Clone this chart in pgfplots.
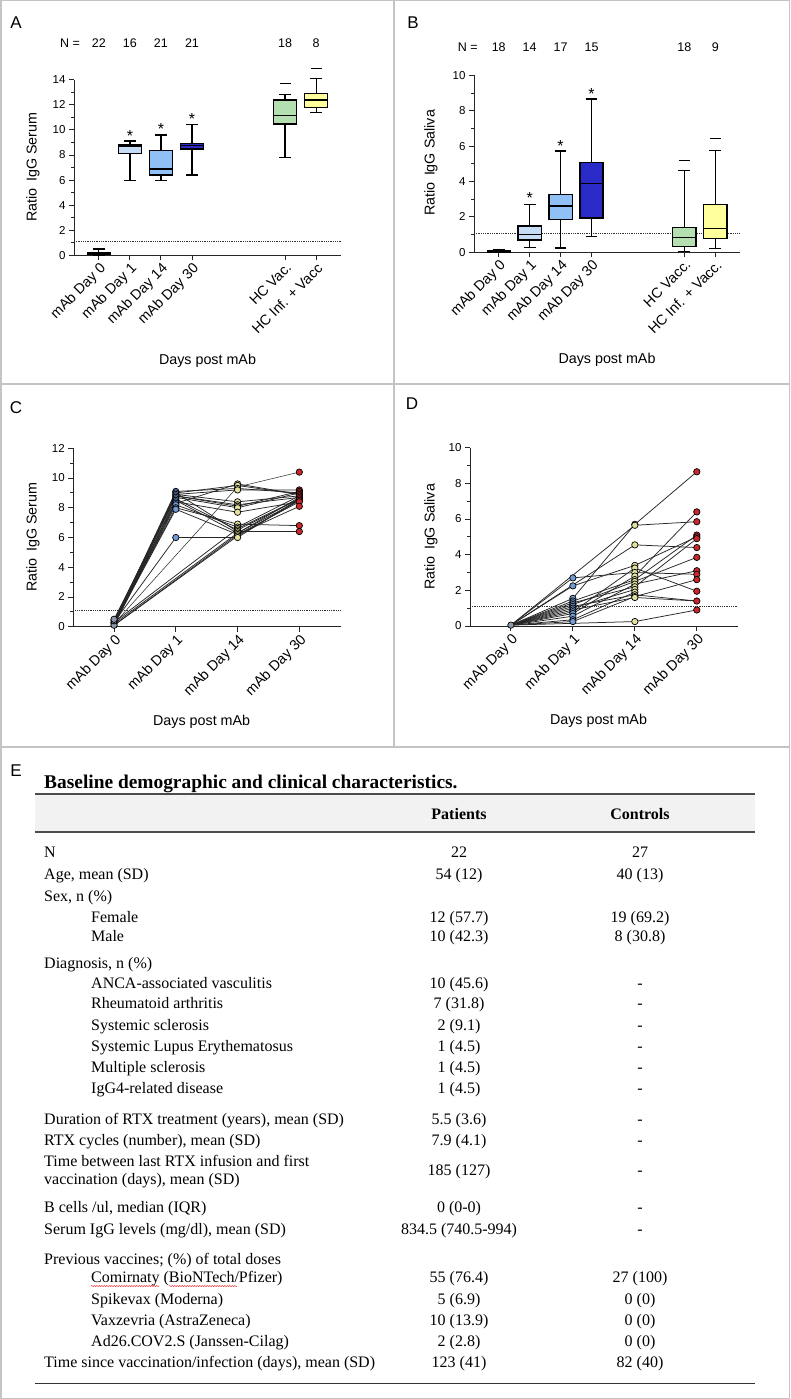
\documentclass[border=0pt]{standalone}
\usepackage{fontspec}
\setmainfont{Liberation Serif}
\newfontfamily\arial{Liberation Sans}
\usepackage{pgfplots}
\pgfplotsset{compat=1.18}
\usepgfplotslibrary{statistics}
\usetikzlibrary{decorations.pathmorphing}

\definecolor{bxone}{HTML}{C6DBF6}
\definecolor{bxtwo}{HTML}{90C0F6}
\definecolor{bxthree}{HTML}{2A2AC8}
\definecolor{bxhc}{HTML}{B4DFB0}
\definecolor{bxinf}{HTML}{FFFF9C}
\definecolor{mkzero}{HTML}{8A97AA}
\definecolor{mkone}{HTML}{6E9BD4}
\definecolor{mktwo}{HTML}{E3E19E}
\definecolor{mkthree}{HTML}{C8282D}
\definecolor{frame}{HTML}{C4C4C4}
\definecolor{hdr}{HTML}{F2F2F2}

\newcommand\fA{\arial\fontsize{14.3}{16}\selectfont}
\newcommand\fT{\arial\fontsize{11.5}{13}\selectfont}
\newcommand\fN{\arial\fontsize{12.5}{14}\selectfont}
\newcommand\fS{\arial\fontsize{16}{18}\selectfont}
\newcommand\fL{\arial\fontsize{17}{19}\selectfont}

\pgfplotsset{
  panel/.style={
    scale only axis, anchor=south west, clip=false,
    axis x line*=bottom, axis y line*=left,
    axis line style={line width=0.9pt, black!85, -},
    tick style={line width=0.9pt, black!85},
    tick align=outside, major tick length=5pt, minor tick length=3pt,
    minor y tick num=1,
    /pgf/number format/assume math mode=true,
    tick label style={font=\fT},
    xticklabel style={font=\fA, rotate=45, anchor=north east, inner sep=1pt},
    boxplot/draw direction=y,
    boxplot/box extend=0.75, boxplot/whisker extend=0.38,
  },
  bx/.style={boxplot prepared={#1}, draw=black, line width=1.3pt, solid},
  ln/.style={black!85, line width=0.75pt, mark=none},
  mk/.style={only marks, mark=*, mark size=3.2pt, mark options={fill=#1, draw=black, line width=0.7pt}},
  star/.style={only marks, mark=text, text mark={*}, text mark as node=true, text mark style={font=\fS, inner sep=0pt}},
}

% table rows: baseline y (px), label, patients, controls
\newcommand\trow[4]{%
  \node[anchor=base west, inner sep=0] at (44pt,-#1pt) {#2};
  \node[anchor=base, inner sep=0] at (459pt,-#1pt) {#3};
  \node[anchor=base, inner sep=0] at (640pt,-#1pt) {#4};}
\newcommand\srow[4]{%
  \node[anchor=base west, inner sep=0] at (91pt,-#1pt) {#2};
  \node[anchor=base, inner sep=0] at (459pt,-#1pt) {#3};
  \node[anchor=base, inner sep=0] at (640pt,-#1pt) {#4};}

\begin{document}
\begin{tikzpicture}
\useasboundingbox (0,0) rectangle (790pt,-1399pt);
\fill[white] (0,0) rectangle (790pt,-1399pt);

% frame
\draw[frame, line width=1.5pt] (0.75pt,-0.75pt) rectangle (789.25pt,-1398.25pt);
\draw[frame, line width=1.5pt] (394pt,0pt) -- (394pt,-747pt);
\draw[frame, line width=1.5pt] (0pt,-384pt) -- (790pt,-384pt);
\draw[frame, line width=1.5pt] (0pt,-747pt) -- (790pt,-747pt);

% panel letters
\node[font=\fL, anchor=base] at (16pt,-29pt) {A};
\node[font=\fL, anchor=base] at (413pt,-29pt) {B};
\node[font=\fL, anchor=base] at (16pt,-413pt) {C};
\node[font=\fL, anchor=base] at (412pt,-409pt) {D};
\node[font=\fL, anchor=base] at (16pt,-776pt) {E};

% ---------------- A ----------------
\begin{axis}[panel, at={(74pt,-255.3pt)}, width=267pt, height=175.6pt,
  xmin=-0.8, xmax=7.8, ymin=0, ymax=14, ytick={0,2,...,14},
  xtick={0,1,2,3,6,7},
  xticklabels={mAb Day 0, mAb Day 1, mAb Day 14, mAb Day 30, HC Vac., HC Inf. + Vacc},
  xlabel={Days post mAb}, ylabel={Ratio\hspace{0.45em}IgG Serum},
  xlabel style={at={(axis description cs:0.5,-0.602)}, anchor=center, font=\fA},
  ylabel style={at={(axis description cs:-0.154,0.503)}, anchor=center, font=\fA}]
\addplot[densely dotted, black!80, line width=0.8pt] coordinates {(-0.8,1.12) (7.8,1.12)};
\addplot[bx={draw position=0, lower whisker=0, lower quartile=0.04, median=0.1, upper quartile=0.2, upper whisker=0.5}, fill=black] coordinates {};
\addplot[bx={draw position=1, lower whisker=5.98, lower quartile=8.14, median=8.72, upper quartile=8.86, upper whisker=9.12}, fill=bxone] coordinates {};
\addplot[bx={draw position=2, lower whisker=5.98, lower quartile=6.41, median=6.89, upper quartile=8.35, upper whisker=9.6}, fill=bxtwo] coordinates {};
\addplot[bx={draw position=3, lower whisker=6.41, lower quartile=8.48, median=8.75, upper quartile=8.91, upper whisker=10.43}, fill=bxthree] coordinates {};
\addplot[bx={draw position=6, lower whisker=7.79, lower quartile=10.48, median=11.14, upper quartile=12.39, upper whisker=12.82}, fill=bxhc] coordinates {};
\addplot[bx={draw position=7, lower whisker=11.36, lower quartile=11.8, median=12.39, upper quartile=12.9, upper whisker=14.07}, fill=bxinf] coordinates {};
\addplot[only marks, mark=-, mark size=5.5pt, mark options={line width=1.1pt}] coordinates {(6,13.67) (7,14.89)};
\addplot[star] coordinates {(1,9.55) (2,10.05) (3,10.85)};
\node[font=\fN] at (axis cs:-0.93,16.93) {N =};
\node[font=\fN] at (axis cs:0,16.93) {22};
\node[font=\fN] at (axis cs:1,16.93) {16};
\node[font=\fN] at (axis cs:2,16.93) {21};
\node[font=\fN] at (axis cs:3,16.93) {21};
\node[font=\fN] at (axis cs:6,16.93) {18};
\node[font=\fN] at (axis cs:7,16.93) {8};
\end{axis}

% ---------------- B ----------------
\begin{axis}[panel, at={(474pt,-252.3pt)}, width=266pt, height=177pt,
  xmin=-0.8, xmax=7.8, ymin=0, ymax=10, ytick={0,2,...,10},
  xtick={0,1,2,3,6,7},
  xticklabels={mAb Day 0, mAb Day 1, mAb Day 14, mAb Day 30, HC Vacc., HC Inf. + Vacc.},
  xlabel={Days post mAb}, ylabel={Ratio\hspace{0.45em}IgG Saliva},
  xlabel style={at={(axis description cs:0.5,-0.608)}, anchor=center, font=\fA},
  ylabel style={at={(axis description cs:-0.162,0.505)}, anchor=center, font=\fA}]
\addplot[densely dotted, black!80, line width=0.8pt] coordinates {(-0.8,1.07) (7.8,1.07)};
\addplot[bx={draw position=0, lower whisker=0, lower quartile=0.02, median=0.08, upper quartile=0.12, upper whisker=0.13}, fill=black] coordinates {};
\addplot[bx={draw position=1, lower whisker=0.26, lower quartile=0.70, median=1.02, upper quartile=1.49, upper whisker=2.69}, fill=bxone] coordinates {};
\addplot[bx={draw position=2, lower whisker=0.24, lower quartile=1.86, median=2.62, upper quartile=3.28, upper whisker=5.72}, fill=bxtwo] coordinates {};
\addplot[bx={draw position=3, lower whisker=0.89, lower quartile=1.94, median=3.88, upper quartile=5.07, upper whisker=8.66}, fill=bxthree] coordinates {};
\addplot[bx={draw position=6, lower whisker=0.06, lower quartile=0.34, median=0.85, upper quartile=1.39, upper whisker=4.61}, fill=bxhc] coordinates {};
\addplot[bx={draw position=7, lower whisker=0.23, lower quartile=0.79, median=1.36, upper quartile=2.71, upper whisker=5.76}, fill=bxinf] coordinates {};
\addplot[only marks, mark=-, mark size=5.5pt, mark options={line width=1.1pt}] coordinates {(6,5.2) (7,6.44)};
\addplot[star] coordinates {(1,3.05) (2,6.0) (3,8.95)};
\node[font=\fN] at (axis cs:-1.0,11.6) {N =};
\node[font=\fN] at (axis cs:0,11.6) {18};
\node[font=\fN] at (axis cs:1,11.6) {14};
\node[font=\fN] at (axis cs:2,11.6) {17};
\node[font=\fN] at (axis cs:3,11.6) {15};
\node[font=\fN] at (axis cs:6,11.6) {18};
\node[font=\fN] at (axis cs:7,11.6) {9};
\end{axis}

% ---------------- C ----------------
\begin{axis}[panel, at={(73.3pt,-626.7pt)}, width=267.4pt, height=178.4pt,
  xmin=-0.66, xmax=3.67, ymin=0, ymax=12, ytick={0,2,...,12},
  xtick={0,1,2,3},
  xticklabels={mAb Day 0, mAb Day 1, mAb Day 14, mAb Day 30},
  xlabel={Days post mAb}, ylabel={Ratio\hspace{0.45em}IgG Serum},
  xlabel style={at={(axis description cs:0.48,-0.534)}, anchor=center, font=\fA},
  ylabel style={at={(axis description cs:-0.151,0.503)}, anchor=center, font=\fA}]
\addplot[densely dotted, black!80, line width=0.8pt] coordinates {(-0.66,1.12) (3.67,1.12)};
\addplot[ln] coordinates {(0,0.3) (1,9.1) (2,9.3) (3,9.0)};
\addplot[ln] coordinates {(0,0.2) (1,9.0) (2,9.5) (3,8.9)};
\addplot[ln] coordinates {(0,0.1) (1,8.9) (2,9.2) (3,9.2)};
\addplot[ln] coordinates {(0,0.4) (1,8.9) (2,8.4) (3,8.8)};
\addplot[ln] coordinates {(0,0.2) (1,8.8) (2,8.2) (3,8.7)};
\addplot[ln] coordinates {(0,0.5) (1,8.7) (2,8.0) (3,9.0)};
\addplot[ln] coordinates {(0,0.1) (1,8.6) (2,6.5) (3,8.6)};
\addplot[ln] coordinates {(0,0.3) (1,8.5) (2,6.3) (3,8.5)};
\addplot[ln] coordinates {(0,0.2) (1,8.4) (2,7.7) (3,8.4)};
\addplot[ln] coordinates {(0,0.1) (1,8.2) (2,6.7) (3,8.8)};
\addplot[ln] coordinates {(0,0.3) (1,8.0) (2,6.9) (3,6.8)};
\addplot[ln] coordinates {(0,0.2) (1,7.9) (2,6.2) (3,8.1)};
\addplot[ln] coordinates {(0,0.4) (1,8.8) (2,8.1) (3,9.1)};
\addplot[ln] coordinates {(0,0.1) (1,9.0) (2,6.4) (3,6.4)};
\addplot[ln] coordinates {(0,0.2) (1,8.3) (2,9.6) (3,8.9)};
\addplot[ln] coordinates {(0,0.3) (1,6.0) (2,6.0) (3,8.6)};
\addplot[ln] coordinates {(0,0.1) (2,6.1) (3,8.5)};
\addplot[ln] coordinates {(0,0.2) (2,6.3) (3,8.7)};
\addplot[ln] coordinates {(0,0.3) (2,6.6) (3,8.6)};
\addplot[ln] coordinates {(0,0.1) (2,6.2) (3,8.4)};
\addplot[ln, line width=0.5pt] coordinates {(0,0.2) (2,9.4) (3,10.4)};
\addplot[mk=mkzero] coordinates {(0,0.3) (0,0.2) (0,0.1) (0,0.4) (0,0.5)};
\addplot[mk=mkone] coordinates {(1,9.1) (1,9.0) (1,8.9) (1,8.8) (1,8.7) (1,8.6) (1,8.5) (1,8.4) (1,8.3) (1,8.2) (1,8.0) (1,7.9) (1,6.0)};
\addplot[mk=mktwo] coordinates {(2,9.6) (2,9.5) (2,9.3) (2,9.2) (2,8.4) (2,8.2) (2,8.1) (2,8.0) (2,7.7) (2,6.9) (2,6.7) (2,6.6) (2,6.5) (2,6.4) (2,6.3) (2,6.2) (2,6.1) (2,6.0)};
\addplot[mk=mkthree] coordinates {(3,10.4) (3,9.2) (3,9.1) (3,9.0) (3,8.9) (3,8.8) (3,8.7) (3,8.6) (3,8.5) (3,8.4) (3,8.1) (3,6.8) (3,6.4)};
\end{axis}

% ---------------- D ----------------
\begin{axis}[panel, at={(470pt,-626pt)}, width=267.7pt, height=178.3pt,
  xmin=-0.66, xmax=3.66, ymin=0, ymax=10, ytick={0,2,...,10},
  xtick={0,1,2,3},
  xticklabels={mAb Day 0, mAb Day 1, mAb Day 14, mAb Day 30},
  xlabel={Days post mAb}, ylabel={Ratio\hspace{0.45em}IgG Saliva},
  xlabel style={at={(axis description cs:0.48,-0.533)}, anchor=center, font=\fA},
  ylabel style={at={(axis description cs:-0.146,0.5)}, anchor=center, font=\fA}]
\addplot[densely dotted, black!80, line width=0.8pt] coordinates {(-0.66,1.08) (3.66,1.08)};
\addplot[ln] coordinates {(0,0.05) (1,2.7) (2,3.0) (3,2.9)};
\addplot[ln] coordinates {(0,0.05) (1,2.25) (2,3.4) (3,5.0)};
\addplot[ln] coordinates {(0,0.05) (1,1.55) (2,5.7) (3,8.65)};
\addplot[ln] coordinates {(0,0.05) (1,1.4) (2,2.6) (3,5.1)};
\addplot[ln] coordinates {(0,0.05) (1,1.3) (2,2.2) (3,4.9)};
\addplot[ln] coordinates {(0,0.05) (1,1.2) (2,2.5) (3,3.85)};
\addplot[ln] coordinates {(0,0.05) (1,1.1) (2,1.75) (3,1.4)};
\addplot[ln] coordinates {(0,0.05) (1,1.0) (2,2.05)};
\addplot[ln] coordinates {(0,0.05) (1,0.9) (2,1.6) (3,1.4)};
\addplot[ln] coordinates {(0,0.05) (1,0.8) (2,3.25) (3,1.95)};
\addplot[ln] coordinates {(0,0.05) (1,0.7) (2,2.8) (3,6.4)};
\addplot[ln] coordinates {(0,0.05) (1,0.55) (2,2.35) (3,3.1)};
\addplot[ln] coordinates {(0,0.05) (1,0.35) (2,1.9)};
\addplot[ln] coordinates {(0,0.05) (1,0.25) (2,1.65) (3,2.6)};
\addplot[ln] coordinates {(0,0.05) (2,0.25) (3,0.9)};
\addplot[ln] coordinates {(0,0.05) (2,5.65) (3,5.85)};
\addplot[ln] coordinates {(0,0.05) (2,4.55) (3,4.4)};
\addplot[mk=mkzero] coordinates {(0,0.05)};
\addplot[mk=mkone] coordinates {(1,2.7) (1,2.25) (1,1.55) (1,1.4) (1,1.3) (1,1.2) (1,1.1) (1,1.0) (1,0.9) (1,0.8) (1,0.7) (1,0.55) (1,0.35) (1,0.25)};
\addplot[mk=mktwo] coordinates {(2,5.7) (2,5.65) (2,4.55) (2,3.4) (2,3.25) (2,3.0) (2,2.8) (2,2.6) (2,2.5) (2,2.35) (2,2.2) (2,2.05) (2,1.9) (2,1.75) (2,1.65) (2,1.6) (2,0.25)};
\addplot[mk=mkthree] coordinates {(3,8.65) (3,6.4) (3,5.85) (3,5.1) (3,5.0) (3,4.9) (3,4.4) (3,3.85) (3,3.1) (3,2.9) (3,2.6) (3,1.95) (3,1.4) (3,0.9)};
\end{axis}

% ---------------- E (table) ----------------
\node[anchor=base west, inner sep=0, font=\bfseries\fontsize{19.4}{22}\selectfont] at (44pt,-788pt) {Baseline demographic and clinical characteristics.};
\fill[hdr] (35pt,-794pt) rectangle (755pt,-832pt);
\draw[black!70, line width=1.4pt] (35pt,-794pt) -- (755pt,-794pt);
\draw[black!70, line width=1.4pt] (35pt,-832pt) -- (755pt,-832pt);
\draw[black!80, line width=1pt] (35pt,-1383pt) -- (755pt,-1383pt);
\begin{scope}[font=\fontsize{16}{19}\selectfont]
\node[anchor=base, inner sep=0, font=\bfseries\fontsize{16}{19}\selectfont] at (459pt,-819pt) {Patients};
\node[anchor=base, inner sep=0, font=\bfseries\fontsize{16}{19}\selectfont] at (640pt,-819pt) {Controls};
\trow{857}{N}{22}{27}
\trow{879}{Age, mean (SD)}{54 (12)}{40 (13)}
\trow{901}{Sex, n (\%)}{}{}
\srow{922}{Female}{12 (57.7)}{19 (69.2)}
\srow{941}{Male}{10 (42.3)}{8 (30.8)}
\trow{968}{Diagnosis, n (\%)}{}{}
\srow{988}{ANCA-associated vasculitis}{10 (45.6)}{-}
\srow{1008}{Rheumatoid arthritis}{7 (31.8)}{-}
\srow{1030}{Systemic sclerosis}{2 (9.1)}{-}
\srow{1051}{Systemic Lupus Erythematosus}{1 (4.5)}{-}
\srow{1072}{Multiple sclerosis}{1 (4.5)}{-}
\srow{1093}{IgG4-related disease}{1 (4.5)}{-}
\trow{1124}{Duration of RTX treatment (years), mean (SD)}{5.5 (3.6)}{-}
\trow{1145}{RTX cycles (number), mean (SD)}{7.9 (4.1)}{-}
\trow{1166}{Time between last RTX infusion and first}{}{}
\trow{1184}{vaccination (days), mean (SD)}{}{}
\trow{1175}{}{185 (127)}{-}
\trow{1212}{B cells /ul, median (IQR)}{0 (0-0)}{-}
\trow{1234}{Serum IgG levels (mg/dl), mean (SD)}{834.5 (740.5-994)}{-}
\trow{1264}{Previous vaccines; (\%) of total doses}{}{}
\srow{1282}{Comirnaty (BioNTech/Pfizer)}{55 (76.4)}{27 (100)}
\srow{1304}{Spikevax (Moderna)}{5 (6.9)}{0 (0)}
\srow{1325}{Vaxzevria (AstraZeneca)}{10 (13.9)}{0 (0)}
\srow{1346}{Ad26.COV2.S (Janssen-Cilag)}{2 (2.8)}{0 (0)}
\trow{1367}{Time since vaccination/infection (days), mean (SD)}{123 (41)}{82 (40)}
\end{scope}
\draw[red!80, line width=0.5pt, decorate, decoration={snake, amplitude=0.6pt, segment length=2.5pt}] (91pt,-1286pt) -- (159pt,-1286pt);
\draw[red!80, line width=0.5pt, decorate, decoration={snake, amplitude=0.6pt, segment length=2.5pt}] (169pt,-1286pt) -- (237pt,-1286pt);
\end{tikzpicture}
\end{document}
